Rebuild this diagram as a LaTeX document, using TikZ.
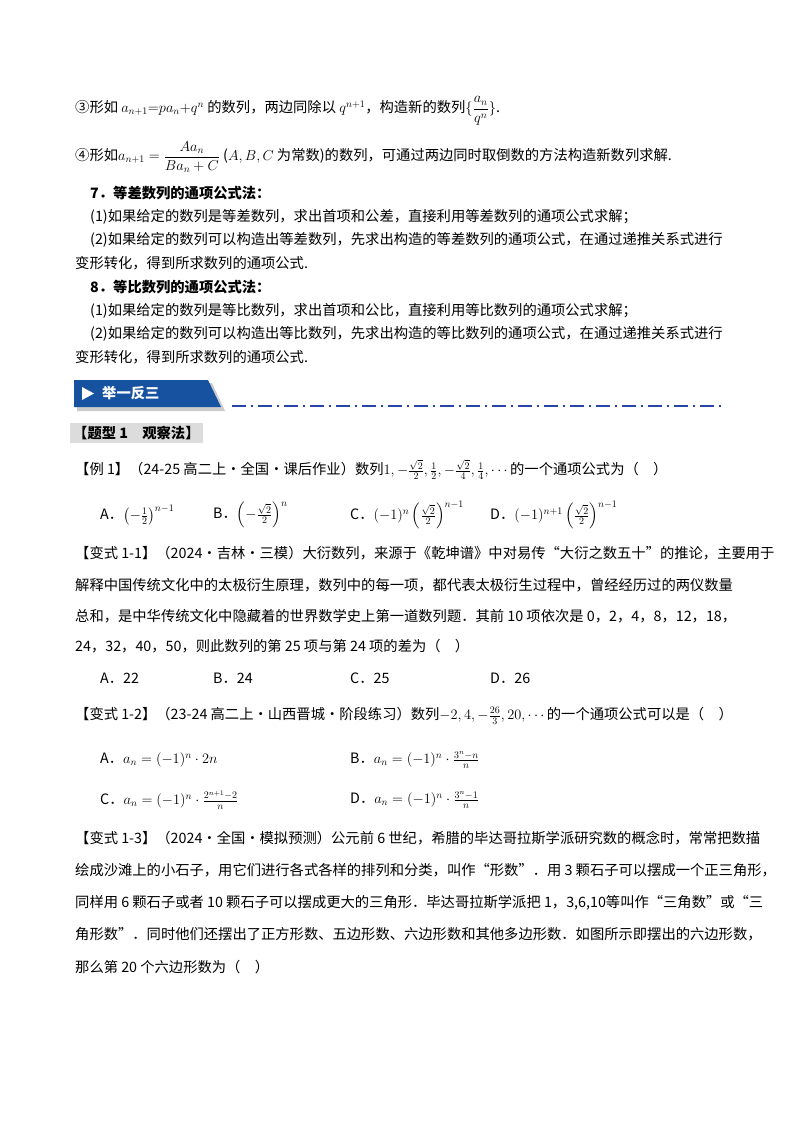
\documentclass[tikz,border=0pt]{standalone}
\usepackage{fontspec}
\setmainfont{Noto Sans CJK SC}
\usepackage{amsmath}
\definecolor{bannerblue}{RGB}{22,82,160}
\definecolor{dashblue}{RGB}{40,70,170}
\definecolor{tagbg}{RGB}{220,220,220}
\begin{document}
\begin{tikzpicture}[x=1pt,y=-1pt,
  txt/.style={anchor=west,inner sep=0pt,font=\fontsize{14.3}{16}\selectfont},
  hd/.style={txt,font=\fontsize{14.3}{16}\selectfont\bfseries}]

\useasboundingbox (0,0) rectangle (800,1132);

%% formulas of the previous section
\node[txt] (l3) at (75,111) {③形如 $a_{n+1}{=}pa_n{+}q^n$ 的数列，两边同除以 $q^{n+1}$，构造新的数列$\{\dfrac{a_n}{q^n}\}$.};
\node[txt] (l4) at (75,157) {④形如$a_{n+1}=\dfrac{Aa_n}{Ba_n+C}$ ($A,B,C$ 为常数)的数列，可通过两边同时取倒数的方法构造新数列求解.};

\node[hd] (h7) at (90,193) {7．等差数列的通项公式法：};
\node[txt] (h7a) at (90,217) {(1)如果给定的数列是等差数列，求出首项和公差，直接利用等差数列的通项公式求解；};
\node[txt] (h7b) at (90,240) {(2)如果给定的数列可以构造出等差数列，先求出构造的等差数列的通项公式，在通过递推关系式进行};
\node[txt] (h7c) at (75,263) {变形转化，得到所求数列的通项公式.};

\node[hd] (h8) at (90,287) {8．等比数列的通项公式法：};
\node[txt] (h8a) at (90,311) {(1)如果给定的数列是等比数列，求出首项和公比，直接利用等比数列的通项公式求解；};
\node[txt] (h8b) at (90,334) {(2)如果给定的数列可以构造出等比数列，先求出构造的等比数列的通项公式，在通过递推关系式进行};
\node[txt] (h8c) at (75,357) {变形转化，得到所求数列的通项公式.};

%% banner
\fill[gray!40] (77,383) -- (212,383) -- (225,411) -- (77,411) -- cycle;
\fill[bannerblue] (74,380) -- (208,380) -- (221,407) -- (74,407) -- cycle;
\fill[white] (82,387) -- (94,393.5) -- (82,400) -- cycle;
\node[hd,text=white] (ban) at (102,393) {举一反三};
\draw[dashblue,line width=1.6pt,dash pattern=on 14pt off 5pt on 2pt off 5pt] (232,406) -- (725,406);

\node[hd,fill=tagbg,inner sep=3pt] (tag) at (70,433) {【题型 1\quad 观察法】};

%% example 1
\node[txt] (e1) at (75,470) {【例 1】（24-25 高二上·全国·课后作业）数列$1,-\frac{\sqrt2}{2},\frac12,-\frac{\sqrt2}{4},\frac14,\cdots$的一个通项公式为（\quad）};
\node[txt] (e1a) at (100,515) {A．$\left(-\frac12\right)^{n-1}$};
\node[txt] (e1b) at (213,515) {B．$\left(-\frac{\sqrt2}{2}\right)^{n}$};
\node[txt] (e1c) at (350,515) {C．$(-1)^n\left(\frac{\sqrt2}{2}\right)^{n-1}$};
\node[txt] (e1d) at (490,515) {D．$(-1)^{n+1}\left(\frac{\sqrt2}{2}\right)^{n-1}$};

%% variant 1-1
\node[txt] (v1) at (75,553) {【变式 1-1】（2024·吉林·三模）大衍数列，来源于《乾坤谱》中对易传“大衍之数五十”的推论，主要用于};
\node[txt] (v1b) at (75,585) {解释中国传统文化中的太极衍生原理，数列中的每一项，都代表太极衍生过程中，曾经经历过的两仪数量};
\node[txt] (v1c) at (75,616) {总和，是中华传统文化中隐藏着的世界数学史上第一道数列题．其前 10 项依次是 0，2，4，8，12，18，};
\node[txt] (v1d) at (75,646) {24，32，40，50，则此数列的第 25 项与第 24 项的差为（\quad）};
\node[txt] (v1oa) at (100,678) {A．22};
\node[txt] (v1ob) at (213,678) {B．24};
\node[txt] (v1oc) at (350,678) {C．25};
\node[txt] (v1od) at (490,678) {D．26};

%% variant 1-2
\node[txt] (v2) at (75,716) {【变式 1-2】（23-24 高二上·山西晋城·阶段练习）数列$-2,4,-\frac{26}{3},20,\cdots$的一个通项公式可以是（\quad）};
\node[txt] (v2a) at (100,760) {A．$a_n=(-1)^n\cdot 2n$};
\node[txt] (v2b) at (350,760) {B．$a_n=(-1)^n\cdot\frac{3^n-n}{n}$};
\node[txt] (v2c) at (100,800) {C．$a_n=(-1)^n\cdot\frac{2^{n+1}-2}{n}$};
\node[txt] (v2d) at (350,800) {D．$a_n=(-1)^n\cdot\frac{3^n-1}{n}$};

%% variant 1-3
\node[txt] (v3) at (75,838) {【变式 1-3】（2024·全国·模拟预测）公元前 6 世纪，希腊的毕达哥拉斯学派研究数的概念时，常常把数描};
\node[txt] (v3b) at (75,870) {绘成沙滩上的小石子，用它们进行各式各样的排列和分类，叫作“形数”．用 3 颗石子可以摆成一个正三角形，};
\node[txt] (v3c) at (75,903) {同样用 6 颗石子或者 10 颗石子可以摆成更大的三角形．毕达哥拉斯学派把 1，3,6,10等叫作“三角数”或“三};
\node[txt] (v3d) at (75,934) {角形数”．同时他们还摆出了正方形数、五边形数、六边形数和其他多边形数．如图所示即摆出的六边形数，};
\node[txt] (v3e) at (75,967) {那么第 20 个六边形数为（\quad）};

\end{tikzpicture}
\end{document}
